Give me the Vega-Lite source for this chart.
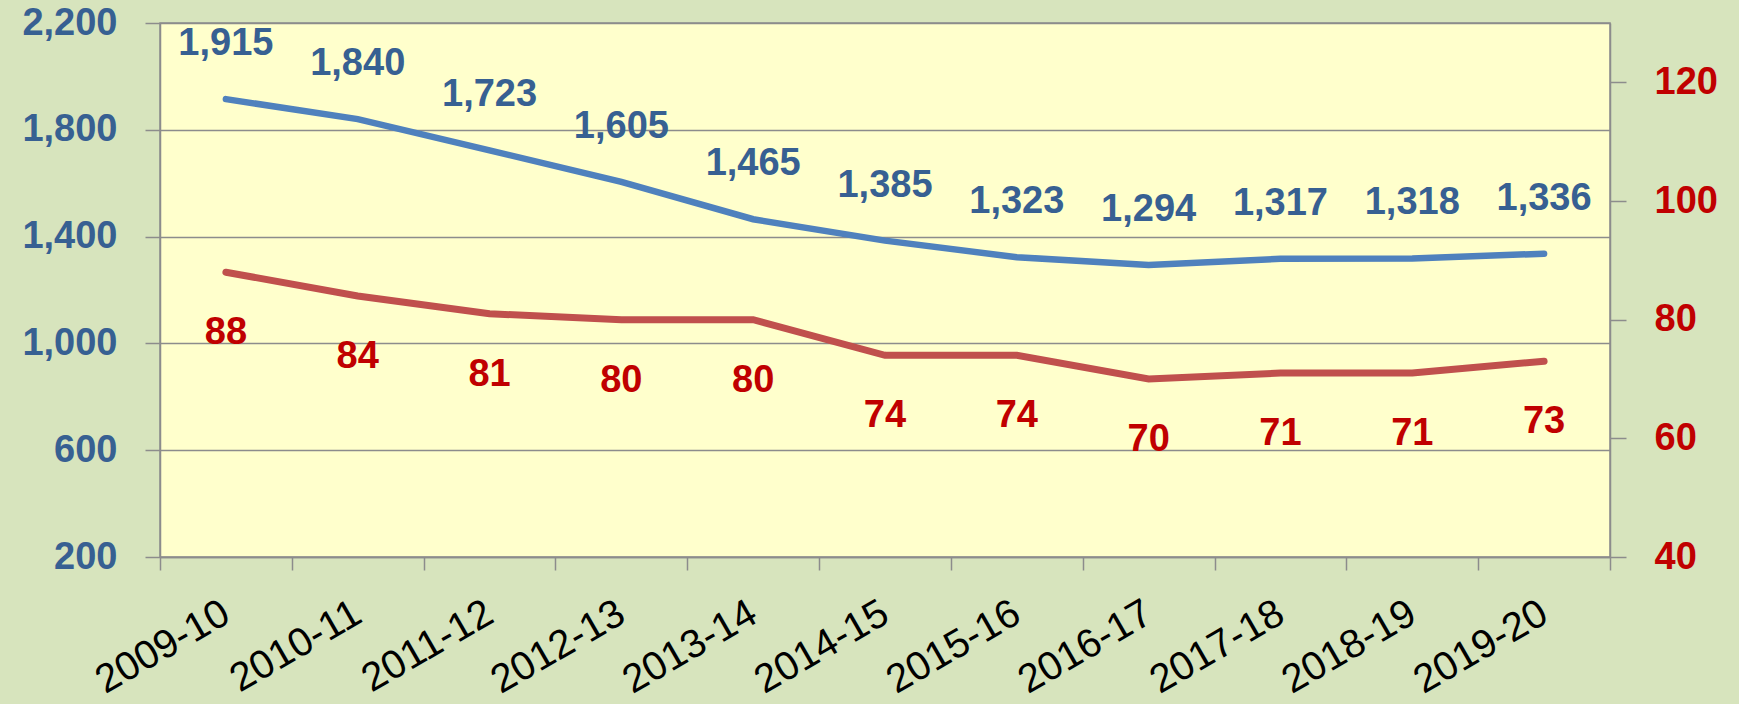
{
  "$schema": "https://vega.github.io/schema/vega-lite/v6.json",
  "width": 1450,
  "height": 534,
  "autosize": "none",
  "padding": {"left": 160, "top": 23, "right": 129, "bottom": 147},
  "background": "#D7E4BD",
  "config": {
    "view": {"fill": "#FFFFCC", "stroke": "#8C8C8C", "strokeWidth": 1.5},
    "font": "Liberation Sans"
  },
  "data": {
    "values": [
      {"year": "2009-10", "a": 1915, "b": 88},
      {"year": "2010-11", "a": 1840, "b": 84},
      {"year": "2011-12", "a": 1723, "b": 81},
      {"year": "2012-13", "a": 1605, "b": 80},
      {"year": "2013-14", "a": 1465, "b": 80},
      {"year": "2014-15", "a": 1385, "b": 74},
      {"year": "2015-16", "a": 1323, "b": 74},
      {"year": "2016-17", "a": 1294, "b": 70},
      {"year": "2017-18", "a": 1317, "b": 71},
      {"year": "2018-19", "a": 1318, "b": 71},
      {"year": "2019-20", "a": 1336, "b": 73}
    ]
  },
  "encoding": {
    "x": {
      "field": "year",
      "type": "ordinal",
      "bandPosition": 0.5,
      "scale": {"type": "band", "paddingInner": 0, "paddingOuter": 0},
      "axis": {
        "title": null,
        "tickBand": "extent",
        "domainColor": "#8C8C8C",
        "domainWidth": 1.5,
        "tickColor": "#8C8C8C",
        "tickWidth": 1.5,
        "tickSize": 13,
        "labelAngle": -30,
        "labelAlign": "right",
        "labelBaseline": "middle",
        "labelPadding": 40,
        "labelFontSize": 40,
        "labelColor": "#000000",
        "labelFont": "Liberation Sans"
      }
    }
  },
  "layer": [
    {
      "encoding": {
        "y": {
          "field": "a",
          "type": "quantitative",
          "scale": {"domain": [200, 2200], "nice": false, "zero": false},
          "axis": {
            "title": null,
            "orient": "left",
            "values": [200, 600, 1000, 1400, 1800, 2200],
            "labelExpr": "format(datum.value, ',')",
            "grid": true,
            "gridColor": "#8C8C8C",
            "gridWidth": 1.5,
            "domainColor": "#8C8C8C",
            "domainWidth": 1.5,
            "tickColor": "#8C8C8C",
            "tickWidth": 1.5,
            "tickSize": 15,
            "labelPadding": 28,
            "labelFontSize": 38,
            "labelFontWeight": "bold",
            "labelColor": "#376092"
          }
        }
      },
      "layer": [
        {"mark": {"type": "line", "color": "#4F81BD", "strokeWidth": 6.5, "strokeCap": "round"}},
        {
          "mark": {"type": "text", "dy": -55, "fontSize": 38, "fontWeight": "bold", "color": "#376092", "baseline": "middle"},
          "encoding": {"text": {"field": "a", "type": "quantitative", "format": ","}}
        }
      ]
    },
    {
      "encoding": {
        "y": {
          "field": "b",
          "type": "quantitative",
          "scale": {"domain": [40, 130], "nice": false, "zero": false},
          "axis": {
            "title": null,
            "orient": "right",
            "values": [40, 60, 80, 100, 120],
            "grid": false,
            "domainColor": "#8C8C8C",
            "domainWidth": 1.5,
            "tickColor": "#8C8C8C",
            "tickWidth": 1.5,
            "tickSize": 16,
            "labelPadding": 28,
            "labelFontSize": 38,
            "labelFontWeight": "bold",
            "labelColor": "#C00000"
          }
        }
      },
      "layer": [
        {"mark": {"type": "line", "color": "#C0504D", "strokeWidth": 7, "strokeCap": "round"}},
        {
          "mark": {"type": "text", "dy": 61, "fontSize": 38, "fontWeight": "bold", "color": "#C00000", "baseline": "middle"},
          "encoding": {"text": {"field": "b", "type": "quantitative"}}
        }
      ]
    }
  ],
  "resolve": {"scale": {"y": "independent"}}
}
